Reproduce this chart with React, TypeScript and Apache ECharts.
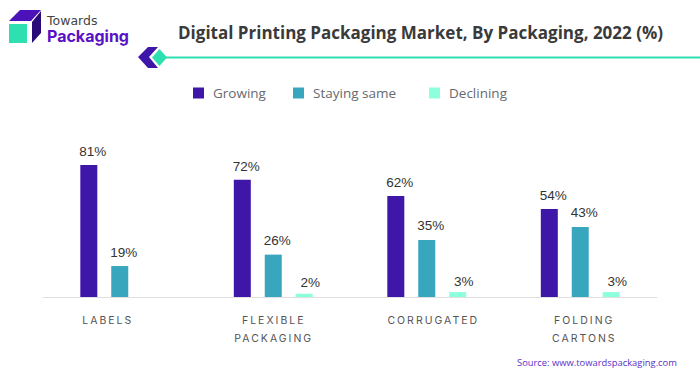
import React, { useEffect, useRef } from "react";
import * as echarts from "echarts";

const categories = ["LABELS", "FLEXIBLE\nPACKAGING", "CORRUGATED", "FOLDING\nCARTONS"];
const growing = [81, 72, 62, 54];
const stayingSame = [19, 26, 35, 43];
const declining = [null, 2, 3, 3];
const titleText = "Digital Printing Packaging Market, By Packaging, 2022 (%)";
const sourceText = "Source: www.towardspackaging.com";

const categoryPadding = [[0, 24, 0, 0], [0, 0, 0, 1], [0, 0, 0, 13], [0, 0, 0, 8]];

const barSeries = (name: string, data: (number | null)[], color: string, dx: number, distance: number) => ({
  name,
  type: "bar",
  data,
  barWidth: 17,
  barGap: "82%",
  itemStyle: { color },
  label: {
    show: true,
    position: "top",
    distance,
    offset: [dx, 0],
    formatter: "{c}%",
    color: "#333333",
    fontFamily: "Liberation Sans",
    fontSize: 13.5,
  },
});

const legendItem = (name: string, left: number) => ({
  top: 81,
  left,
  padding: 5,
  itemWidth: 11,
  itemHeight: 11,
  itemGap: 0,
  icon: "rect",
  textStyle: { color: "#666a70", fontFamily: "Open Sans", fontSize: 13.5, padding: [0, 0, 0, 4] },
  data: [name],
});

export default function App() {
  const ref = useRef<HTMLDivElement>(null);
  useEffect(() => {
    const chart = echarts.init(ref.current!, undefined, { renderer: "svg" });
    chart.setOption({
      animation: false,
      backgroundColor: "#ffffff",
      grid: { left: 43, right: 43, top: 101.4, height: 195.6 },
      legend: [legendItem("Growing", 188), legendItem("Staying same", 288), legendItem("Declining", 424)],
      xAxis: {
        type: "category",
        data: categories.map((value, i) => ({ value, textStyle: { padding: categoryPadding[i] } })),
        axisTick: { show: false },
        axisLine: { lineStyle: { color: "#e0e0e0", width: 1 } },
        axisLabel: {
          color: "#555555",
          fontFamily: "Inter",
          fontSize: 10.5,
          lineHeight: 18,
          margin: 14,
          interval: 0,
        },
      },
      yAxis: { type: "value", min: 0, max: 120, show: false, splitLine: { show: false } },
      series: [
        barSeries("Growing", growing, "#3f17a8", 4, 6),
        barSeries("Staying same", stayingSame, "#38a6bc", 4, 7),
        barSeries("Declining", declining, "#8cffdc", 6, 4),
      ],
      graphic: [
        { type: "polygon", shape: { points: [[9, 21], [20, 10], [41, 10], [31, 21]] }, style: { fill: "#4a12b8" } },
        { type: "polygon", shape: { points: [[41, 11], [41, 33], [32, 43], [32, 22]] }, style: { fill: "#2a0a78" } },
        { type: "rect", shape: { x: 9, y: 24, width: 18, height: 19 }, style: { fill: "#2ee0b0" } },
        { type: "text", x: 47, y: 13.5, style: { text: "Towards", fill: "#444444", font: "400 12.5px 'DejaVu Sans'" } },
        { type: "text", x: 47, y: 28, style: { text: "Packaging", fill: "#5a10c4", font: "700 16px Inter" } },
        { type: "text", x: 178, y: 24, style: { text: titleText, fill: "#3a3a3a", font: "700 17px 'Open Sans'" } },
        { type: "polygon", shape: { points: [[138, 57], [148, 47], [158, 47], [149, 57], [158, 68], [148, 68]] }, style: { fill: "#3f17a8" } },
        { type: "line", shape: { x1: 160, y1: 57.5, x2: 700, y2: 57.5 }, style: { stroke: "#2ee0b0", lineWidth: 2 } },
        { type: "polygon", shape: { points: [[152, 57.5], [159.5, 49], [167, 57.5], [159.5, 66]] }, style: { fill: "#2ee0b0" } },
        { type: "text", x: 517, y: 358, style: { text: sourceText, fill: "#5a2fc8", font: "500 9.4px 'Open Sans'" } },
      ],
    });
    return () => chart.dispose();
  }, []);
  return (
    <>
      <style>{`html,body{margin:0;padding:0;background:#fff} text[style*="10.5px"]{letter-spacing:2px}`}</style>
      <div ref={ref} style={{ width: 700, height: 375 }} />
    </>
  );
}
